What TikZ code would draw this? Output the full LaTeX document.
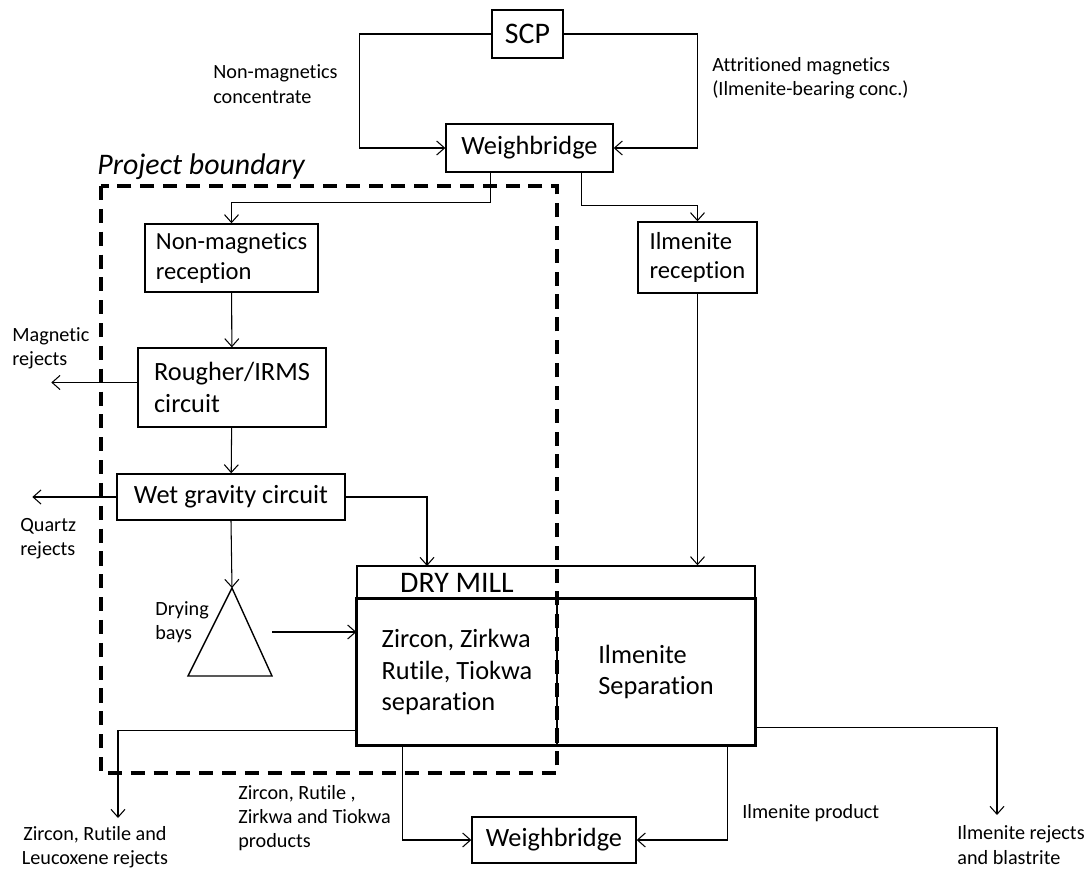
\documentclass[tikz,border=0pt]{standalone}
\usepackage{fontspec}
\setmainfont[Ligatures=NoCommon]{Carlito}
\usetikzlibrary{arrows.meta}
\begin{document}
\begin{tikzpicture}[x=0.02cm,y=-0.02cm]
        % Styles
        \tikzstyle{process box}=[draw,line width=0.8pt,inner sep=0pt,align=left,font=\fontsize{15}{18}\selectfont]
        \tikzstyle{label text}=[inner sep=0pt,align=left,font=\fontsize{11.5}{13.8}\selectfont]
        \tikzstyle{flow line}=[line width=0.6pt,-{Straight Barb[length=4.5pt,width=8pt]}]
        \tikzstyle{boundary line}=[line width=2.3pt,dash pattern=on 8pt off 5pt]
        \useasboundingbox (0,0) rectangle (1090,872);
        %boxes
        \node[process box,minimum width=1.42cm,minimum height=0.96cm,font=\fontsize{17}{20}\selectfont] (scp) at (527.5,34) {SCP};
        \node[process box,minimum width=3.34cm,minimum height=0.96cm] (wb1) at (529.5,148) {Weighbridge};
        \node[process box,minimum width=3.46cm,minimum height=1.36cm,font=\fontsize{14}{17}\selectfont] (nmr) at (231.5,258) {Non-magnetics\\reception};
        \node[process box,minimum width=2.38cm,minimum height=1.42cm,font=\fontsize{14}{17}\selectfont] (ilr) at (697.5,257.5) {Ilmenite\\reception};
        \node[process box,minimum width=3.76cm,minimum height=1.58cm] (rgh) at (232,387.5) {Rougher/IRMS\\circuit};
        \node[process box,minimum width=4.56cm,minimum height=0.92cm] (wgc) at (231,497) {Wet gravity circuit};
        \node[process box,minimum width=7.96cm,minimum height=0.66cm] (dm) at (556,582.5) {};
        \node[inner sep=0pt,font=\fontsize{17}{20}\selectfont] (dmtext) at (457,583) {DRY MILL};
        \node[process box,minimum width=4cm,minimum height=2.92cm] (zrts) at (457,672) {Zircon, Zirkwa\\Rutile, Tiokwa\\separation};
        \node[process box,minimum width=3.96cm,minimum height=2.92cm] (ilsep) at (656,672) {Ilmenite\\Separation};
        \draw[line width=1.7pt] (zrts.north west) rectangle (ilsep.south east);
        \node[process box,minimum width=3.28cm,minimum height=0.92cm] (wb2) at (554,840) {Weighbridge};
        %drying bays
        \coordinate (bays) at (232,588);
        \coordinate (baysout) at (272,632);
        \draw[line width=0.8pt] (bays) -- (272,676) -- (188,676) -- cycle;
        %boundary
        \draw[boundary line] (101,186) rectangle (557,773);
        \node[anchor=west,inner sep=0pt,font=\fontsize{17}{20}\selectfont\itshape] (pb) at (97,167) {Project boundary};
        %free ends
        \coordinate (dmin) at (427,566);
        \coordinate (zrrej) at (118,818);
        \coordinate (ilrej) at (997,815);
        %flows
        \draw[flow line] (scp.west) -- ++(-132,0) |- (wb1.west);
        \draw[flow line] (scp.east) -- ++(134,0) |- (wb1.east);
        \draw[flow line] ([xshift=-0.78cm]wb1.south) -- ++(0,30) -| (nmr.north);
        \draw[flow line] ([xshift=1.04cm]wb1.south) -- ++(0,33) -| (ilr.north);
        \draw[flow line] (nmr) -- (rgh);
        \draw[flow line] ([yshift=0.1cm]rgh.west) -- ++(-86,0);
        \draw[flow line] (rgh) -- (wgc);
        \draw[flow line] (wgc.west) -- ++(-84,0);
        \draw[flow line] (wgc.east) -| (dmin);
        \draw[flow line] (wgc.south) -- (bays);
        \draw[flow line] (ilr.south) -- (ilr.south |- dm.north);
        \draw[flow line] (baysout) -- (baysout -| zrts.west);
        \draw[flow line] ([yshift=0.3cm]zrts.south west) -| (zrrej);
        \draw[flow line] ([xshift=0.92cm]zrts.south west) |- (wb2.west);
        \draw[flow line] ([xshift=-0.56cm]ilsep.south east) |- (wb2.east);
        \draw[flow line] ([yshift=0.36cm]ilsep.south east) -| (ilrej);
        %labels
        \node[label text,anchor=west] (l1) at (213,84) {Non-magnetics\\concentrate};
        \node[label text,anchor=west] (l2) at (712,78) {Attritioned magnetics\\(Ilmenite-bearing conc.)};
        \node[label text,anchor=west] (l3) at (12,348) {Magnetic\\rejects};
        \node[label text,anchor=west] (l4) at (20,539) {Quartz\\rejects};
        \node[label text,anchor=west] (l5) at (155,622) {Drying\\bays};
        \node[label text,align=center] (l6) at (95,847) {Zircon, Rutile and\\Leucoxene rejects};
        \node[label text,anchor=west] (l7) at (238,818) {Zircon, Rutile ,\\Zirkwa and Tiokwa\\products};
        \node[label text,anchor=west] (l8) at (742,813) {Ilmenite product};
        \node[label text,anchor=west] (l9) at (957,845) {Ilmenite rejects\\and blastrite};
\end{tikzpicture}
\end{document}
